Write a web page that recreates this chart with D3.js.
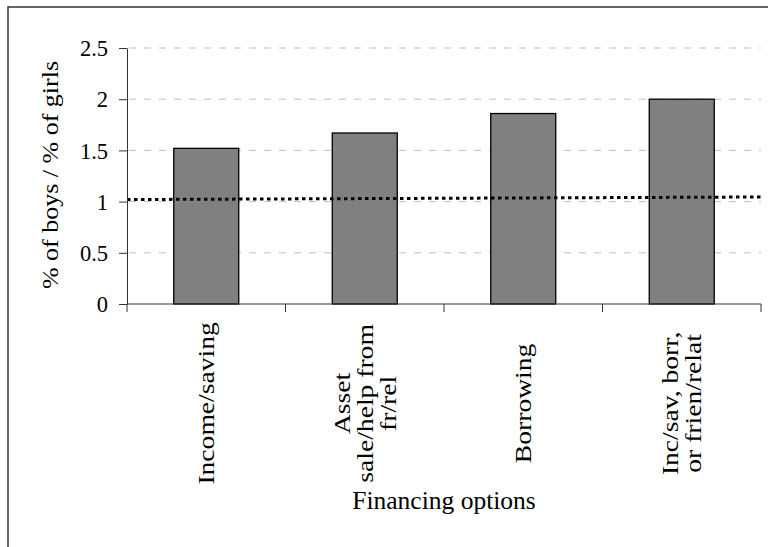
<!DOCTYPE html>
<html>
<head>
<meta charset="utf-8">
<script src="https://cdn.jsdelivr.net/npm/d3@7"></script>
<style>
  body { margin: 0; background: #fff; }
  text { font-family: "Liberation Serif", "Times New Roman", serif; fill: #000; }
</style>
</head>
<body>
<div id="chart"></div>
<script>
// data
const categories = ["Income/saving", "Asset sale/help from fr/rel", "Borrowing", "Inc/sav, borr, or frien/relat"];
const labelLines = [["Income/saving"], ["Asset", "sale/help from", "fr/rel"], ["Borrowing"], ["Inc/sav, borr,", "or frien/relat"]];
const ratios = [1.52, 1.67, 1.86, 2.0];
const yTicks = [0, 0.5, 1, 1.5, 2, 2.5];
// dotted reference line, value at left and right end of the x axis
const refLine = [1.02, 1.045];

const W = 768, H = 547;
const margin = {top: 48, right: 7, bottom: 243, left: 127};
const width = W - margin.left - margin.right;
const height = H - margin.top - margin.bottom;

const svg = d3.select("#chart").append("svg")
  .attr("width", W).attr("height", H);

// outer frame
svg.append("rect")
  .attr("x", 8).attr("y", 7)
  .attr("width", W).attr("height", H)
  .attr("fill", "none").attr("stroke", "#333").attr("stroke-width", 1.5);

const g = svg.append("g").attr("transform", `translate(${margin.left}, ${margin.top})`);

const x = d3.scaleBand().domain(categories).range([0, width]).paddingInner(0.59).paddingOuter(0.295);
const xEdge = d3.scaleLinear().domain([0, refLine.length - 1]).range([0, width]);
const y = d3.scaleLinear().domain([0, 2.5]).range([height, 0]);

// gridlines
g.append("g").selectAll("line")
  .data(yTicks.filter(d => d > 0))
  .enter().append("line")
    .attr("x1", 2).attr("x2", width)
    .attr("y1", d => y(d)).attr("y2", d => y(d))
    .attr("stroke", "#c0c0c0").attr("stroke-width", 1)
    .attr("stroke-dasharray", "7,8");

// bars
g.append("g").selectAll("rect")
  .data(ratios)
  .enter().append("rect")
    .attr("x", (d, i) => x(categories[i]))
    .attr("y", d => y(d))
    .attr("width", x.bandwidth())
    .attr("height", d => y(0) - y(d))
    .attr("fill", "#808080")
    .attr("stroke", "#000").attr("stroke-width", 1.3);

// dotted line
g.append("path")
  .datum(refLine)
  .attr("d", d3.line().x((d, i) => xEdge(i)).y(d => y(d)))
  .attr("fill", "none").attr("stroke", "#000")
  .attr("stroke-width", 3).attr("stroke-dasharray", "3.5,3.5");

// y axis
const yAxis = g.append("g")
  .call(d3.axisLeft(y).tickValues(yTicks).tickFormat(d3.format("")).tickSize(8).tickSizeOuter(0));
yAxis.select(".domain").attr("stroke", "#333");
yAxis.selectAll(".tick line").attr("stroke", "#333");
yAxis.selectAll(".tick text")
  .attr("x", -19).attr("dy", "0.34em")
  .style("font-size", "22.5px");

// x axis with ticks at band edges
const xAxis = g.append("g").attr("transform", `translate(0, ${height})`);
xAxis.append("line").attr("x1", 0).attr("x2", width).attr("stroke", "#333");
xAxis.selectAll(".edge")
  .data(d3.range(categories.length + 1))
  .enter().append("line")
    .attr("x1", d => d * width / categories.length)
    .attr("x2", d => d * width / categories.length)
    .attr("y1", 0).attr("y2", 8)
    .attr("stroke", "#333");

// category labels, rotated; lines centred inside a top-aligned block
const lineH = 23;
xAxis.selectAll(".cat")
  .data(labelLines)
  .enter().append("g")
    .attr("transform", (d, i) => {
      const cx = x(categories[i]) + x.bandwidth() / 2;
      return `translate(${cx}, 18) rotate(-90) scale(1.2, 1)`;
    })
  .each(function(lines) {
    const sel = d3.select(this);
    const n = lines.length;
    const blockW = 5.9 * 23; // approx length of longest line
    lines.forEach((l, j) => {
      sel.append("text")
        .attr("x", -blockW / 2)
        .attr("y", (j - (n - 1) / 2) * lineH)
        .attr("dy", "0.35em")
        .attr("text-anchor", "middle")
        .style("font-size", "23px")
        .text(l);
    });
  });

// axis titles
svg.append("text")
  .attr("transform", `translate(58, 175) rotate(-90) scale(1.13, 1)`)
  .attr("text-anchor", "middle")
  .style("font-size", "23px")
  .text("% of boys / % of girls");

svg.append("text")
  .attr("x", 444).attr("y", 509)
  .attr("text-anchor", "middle")
  .style("font-size", "25.5px")
  .text("Financing options");
</script>
</body>
</html>
